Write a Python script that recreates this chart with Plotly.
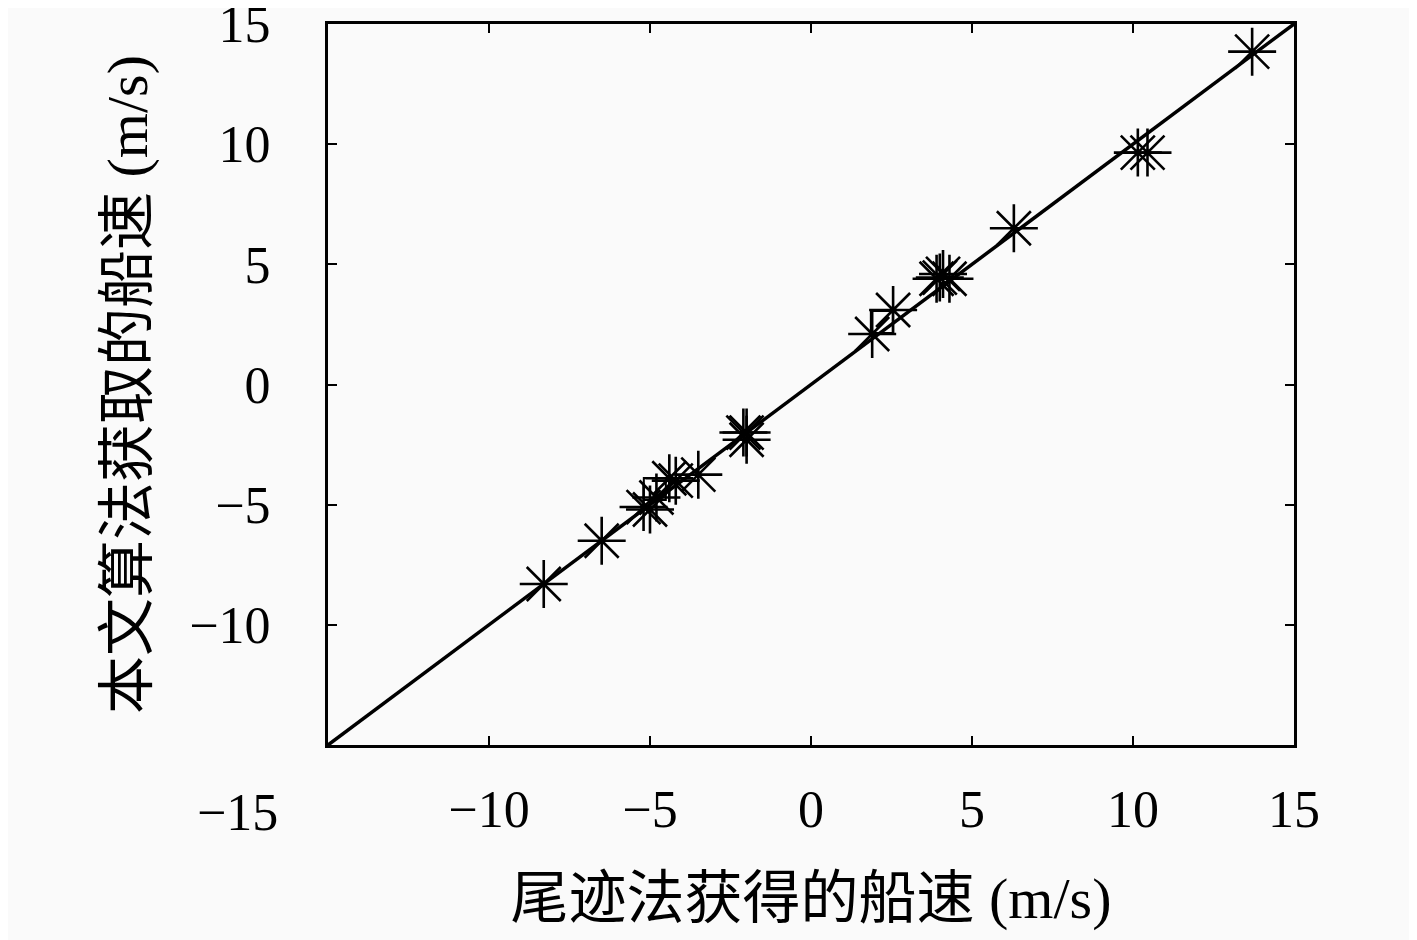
import plotly.graph_objects as go

# ship speed from wake method (x) vs. this algorithm (y), m/s
wake_speed = [-8.3, -6.5, -5.2, -5.0, -4.8, -4.4, -4.2, -3.5, -2.1, -2.0, -2.0,
              1.9, 2.55, 3.9, 4.0, 4.1, 4.3, 6.3, 10.15, 10.45, 13.7]
algo_speed = [-8.3, -6.5, -5.1, -5.2, -4.7, -3.9, -4.0, -3.75, -2.0, -2.0, -2.3,
              2.1, 3.1, 4.4, 4.45, 4.6, 4.4, 6.5, 9.65, 9.65, 13.85]
sq_wake = [-4.85, 2.2]
sq_algo = [-4.35, 2.6]
ref_line = [-15, 15]
tick_vals = [-10, -5, 0, 5, 10, 15]

serif = "Liberation Serif, DejaVu Serif, serif"
cjk = "Liberation Serif, Noto Sans CJK SC, serif"

fig = go.Figure()
fig.add_trace(go.Scatter(x=ref_line, y=ref_line, mode="lines",
                         line=dict(color="black", width=3.5), showlegend=False))
fig.add_trace(go.Scatter(x=sq_wake, y=sq_algo, mode="markers",
                         marker=dict(symbol="square-open", size=22, color="black",
                                     line=dict(width=2, color="black")),
                         showlegend=False))
fig.add_trace(go.Scatter(x=wake_speed, y=algo_speed, mode="markers",
                         marker=dict(symbol="asterisk-open", size=40, color="black",
                                     line=dict(width=2.6, color="rgba(0,0,0,0.85)")),
                         showlegend=False))

axis = dict(range=[-15, 15], tickvals=tick_vals, ticks="inside", ticklen=9,
            tickwidth=2, tickcolor="black", showgrid=False, zeroline=False,
            showline=True, linecolor="black", linewidth=3, mirror="allticks",
            ticklabeloverflow="allow", automargin=False,
            tickfont=dict(family=serif, size=52, color="black"))

fig.update_layout(
    width=1417, height=940,
    paper_bgcolor="#fafafa", plot_bgcolor="#fafafa",
    margin=dict(l=320, r=131, t=16, b=203),
    xaxis=dict(axis, ticklabelstandoff=17,
               title=dict(text="尾迹法获得的船速 (m/s)", standoff=40,
                          font=dict(family=cjk, size=58, color="black"))),
    yaxis=dict(axis, ticklabelstandoff=44,
               title=dict(text="本文算法获取的船速 (m/s)", standoff=23,
                          font=dict(family=cjk, size=58, color="black"))),
)
fig.add_annotation(text="−15", x=-0.094, y=-0.093, xref="paper", yref="paper",
                   xanchor="center", yanchor="middle", showarrow=False,
                   font=dict(family=serif, size=52, color="black"))

fig.write_html("out.html")
